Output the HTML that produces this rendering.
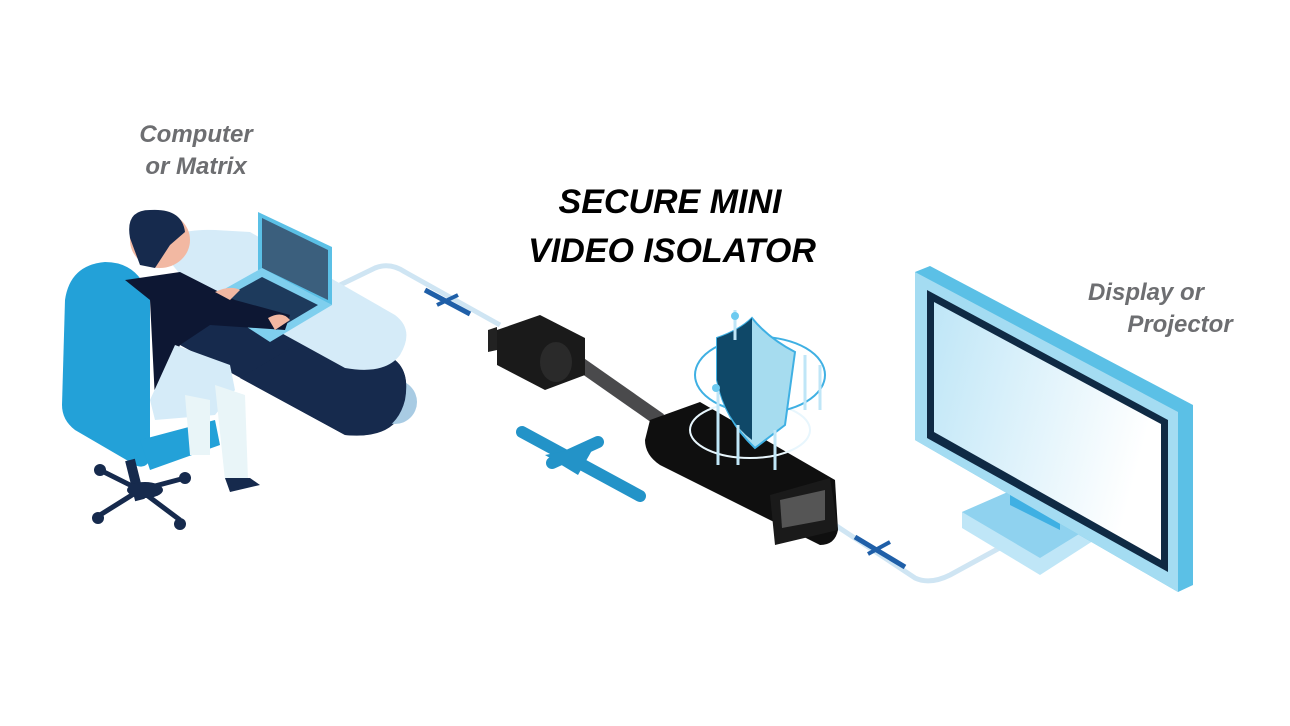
<!DOCTYPE html>
<html><head><meta charset="utf-8"><style>
body{margin:0;background:#fff;width:1290px;height:726px;overflow:hidden}
svg{display:block}
text{font-family:"Liberation Sans",sans-serif;font-style:italic;font-weight:bold}
</style></head><body>
<svg width="1290" height="726" viewBox="0 0 1290 726">
<defs>
<linearGradient id="scr" x1="0" y1="0" x2="1" y2="0.3">
<stop offset="0" stop-color="#bfe6f7"/><stop offset="1" stop-color="#ffffff"/></linearGradient>
</defs>
<text x="196" y="142" font-size="24" fill="#6d6e71" text-anchor="middle">Computer</text>
<text x="196" y="174" font-size="24" fill="#6d6e71" text-anchor="middle">or Matrix</text>
<text x="670" y="213" font-size="34" fill="#000" text-anchor="middle">SECURE MINI</text>
<text x="672" y="262" font-size="34" fill="#000" text-anchor="middle">VIDEO ISOLATOR</text>
<text x="1146" y="300" font-size="24" fill="#6d6e71" text-anchor="middle">Display or</text>
<text x="1180" y="332" font-size="24" fill="#6d6e71" text-anchor="middle">Projector</text>

<!-- cables -->
<path d="M340,285 L375,268 Q390,262 405,272 L500,325" stroke="#cfe5f3" stroke-width="5" fill="none"/>
<path d="M835,525 L915,578 Q930,585 950,575 L1005,545" stroke="#cfe5f3" stroke-width="5" fill="none"/>
<path d="M425,290 L470,314" stroke="#1f5fa8" stroke-width="5"/>
<path d="M437,305 L458,295" stroke="#1f5fa8" stroke-width="4"/>
<path d="M855,537 L905,567" stroke="#1f5fa8" stroke-width="5"/>
<path d="M868,554 L890,542" stroke="#1f5fa8" stroke-width="4"/>
<!-- big arrow -->
<path d="M522,432 L640,496" stroke="#2393c8" stroke-width="12" stroke-linecap="round"/>
<path d="M552,463 L598,442" stroke="#2393c8" stroke-width="12" stroke-linecap="round"/>
<path d="M545,455 L595,445 L578,475 Z" fill="#2393c8"/>

<!-- desk -->
<path d="M330,325 L395,360 Q410,372 405,400 L405,405 Q395,440 345,435 L180,345 L180,300 Z" fill="#162a4d"/>
<ellipse cx="395" cy="402" rx="22" ry="22" fill="#a8cbe3"/>
<path d="M330,325 L395,360 Q410,372 405,400 Q395,440 345,435 L240,378 Z" fill="#162a4d"/>
<path d="M160,250 Q170,228 215,230 L250,232 L395,315 Q415,330 400,355 Q385,375 345,368 L185,280 Z" fill="#d5ebf8"/>
<!-- laptop -->
<path d="M258,212 L332,247 L332,305 L258,270 Z" fill="#5bc0e6"/>
<path d="M262,218 L328,250 L328,300 L262,268 Z" fill="#3b5f7d"/>
<path d="M205,300 L262,268 L332,305 L270,342 Z" fill="#7fcfee"/>
<path d="M220,300 L262,277 L318,305 L276,330 Z" fill="#1d3a5c"/>

<!-- chair -->
<path d="M65,300 Q70,265 105,262 Q140,262 150,300 L150,460 Q145,470 135,465 L75,430 Q62,420 62,405 Z" fill="#23a1d8"/>
<path d="M140,440 L215,420 L220,445 L150,470 Z" fill="#23a1d8"/>
<path d="M130,460 L140,500" stroke="#162a4d" stroke-width="10"/>
<g stroke="#162a4d" stroke-width="5">
<path d="M140,490 L100,470 M140,490 L100,515 M140,490 L180,520 M140,490 L185,478"/></g>
<g fill="#162a4d"><circle cx="100" cy="470" r="6"/><circle cx="98" cy="518" r="6"/><circle cx="180" cy="524" r="6"/><circle cx="185" cy="478" r="6"/><ellipse cx="145" cy="490" rx="18" ry="8"/></g>
<!-- person -->
<path d="M125,280 L180,272 L235,300 L290,315 L285,330 L210,325 L180,345 L155,400 L150,300 Z" fill="#0d1733"/>
<path d="M150,400 L175,345 L230,365 L235,390 L215,415 L155,420 Z" fill="#d5ebf8"/>
<path d="M215,385 L245,395 L248,480 L225,480 Z" fill="#e9f5f8"/>
<path d="M225,478 L250,478 L260,485 L230,492 Z" fill="#162a4d"/>
<path d="M185,395 L210,400 L210,455 L190,455 Z" fill="#e9f5f8"/>
<ellipse cx="160" cy="240" rx="30" ry="28" fill="#f2b8a2"/>
<path d="M130,238 Q125,210 150,210 Q182,208 185,232 L170,245 L155,268 L140,265 Z" fill="#162a4d"/>
<path d="M215,292 Q230,285 240,290 L230,300 Z M268,318 Q282,310 290,320 L275,330 Z" fill="#f2b8a2"/>

<!-- dongle -->
<path d="M560,350 L660,420" stroke="#4a4a4c" stroke-width="14"/>
<path d="M497,330 L540,315 L585,338 L585,375 L545,390 L497,365 Z" fill="#1a1a1a"/>
<path d="M488,330 L497,327 L497,350 L488,352 Z" fill="#222"/>
<ellipse cx="556" cy="362" rx="16" ry="20" fill="#2a2a2a"/>
<path d="M650,420 L700,402 L835,480 L838,530 Q835,545 820,545 L660,465 Q645,455 645,440 Z" fill="#0f0f0f"/>
<path d="M770,495 L830,478 L838,530 L775,545 Z" fill="#1a1a1a"/>
<path d="M780,500 L825,490 L825,520 L782,528 Z" fill="#555"/>
<!-- shield -->
<ellipse cx="750" cy="430" rx="60" ry="28" fill="none" stroke="#e8f6fd" stroke-width="2"/>
<ellipse cx="760" cy="375" rx="65" ry="38" fill="none" stroke="#3fb0e3" stroke-width="2"/>
<path d="M717,338 Q740,330 752,318 Q768,338 795,352 L785,425 L755,448 Q725,420 717,380 Z" fill="#a6dcef" stroke="#3fb0e3" stroke-width="2"/>
<path d="M717,338 Q740,330 752,318 L752,440 Q725,420 717,380 Z" fill="#0f4868"/>
<g stroke="#bfe6f7" stroke-width="3"><path d="M735,310 L735,340 M718,390 L718,465 M738,425 L738,465 M775,430 L775,470 M805,355 L805,410 M820,365 L820,410"/></g>
<circle cx="735" cy="316" r="4" fill="#6ccaf0"/><circle cx="716" cy="388" r="4" fill="#6ccaf0"/>

<!-- monitor stand -->
<path d="M962,512 L1040,478 L1110,515 L1110,530 L1040,575 L962,528 Z" fill="#bfe6f7"/>
<path d="M962,512 L1040,478 L1110,515 L1040,558 Z" fill="#8fd2ef"/>
<path d="M1010,480 L1060,505 L1060,530 L1010,505 Z" fill="#3fb0e3"/>
<!-- monitor -->
<path d="M915,272 L930,266 L1193,405 L1193,585 L1178,592 L915,440 Z" fill="#5bc0e6"/>
<path d="M915,272 L1178,412 L1178,592 L915,440 Z" fill="#a4dcf2"/>
<path d="M927,290 L1168,420 L1168,572 L927,438 Z" fill="#0f2a44"/>
<path d="M934,302 L1161,424 L1161,560 L934,432 Z" fill="url(#scr)"/>
</svg>
</body></html>
